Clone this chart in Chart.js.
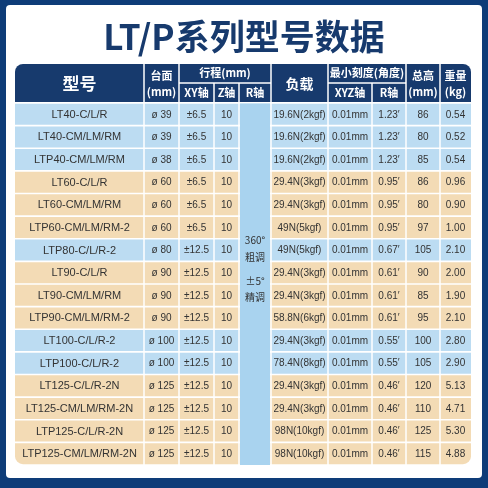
<!DOCTYPE html>
<html><head><meta charset="utf-8">
<script src="https://cdn.jsdelivr.net/npm/chart.js@4"></script>
<style>html,body{margin:0;padding:0;background:#fff}#w{width:488px;height:488px}</style>
</head><body><div id="w"><canvas id="c"></canvas></div>
<script>
const title = 'LT/P系列型号数据';
const models = ['LT40-C/L/R','LT40-CM/LM/RM','LTP40-CM/LM/RM','LT60-C/L/R','LT60-CM/LM/RM','LTP60-CM/LM/RM-2','LTP80-C/L/R-2','LT90-C/L/R','LT90-CM/LM/RM','LTP90-CM/LM/RM-2','LT100-C/L/R-2','LTP100-C/L/R-2','LT125-C/L/R-2N','LT125-CM/LM/RM-2N','LTP125-C/L/R-2N','LTP125-CM/LM/RM-2N'];
const table = ['ø 39','ø 39','ø 38','ø 60','ø 60','ø 60','ø 80','ø 90','ø 90','ø 90','ø 100','ø 100','ø 125','ø 125','ø 125','ø 125'];
const strokeXY = ['±6.5','±6.5','±6.5','±6.5','±6.5','±6.5','±12.5','±12.5','±12.5','±12.5','±12.5','±12.5','±12.5','±12.5','±12.5','±12.5'];
const strokeZ = ['10','10','10','10','10','10','10','10','10','10','10','10','10','10','10','10'];
const strokeR = ['360°','粗调','±5°','精调'];
const load = ['19.6N(2kgf)','19.6N(2kgf)','19.6N(2kgf)','29.4N(3kgf)','29.4N(3kgf)','49N(5kgf)','49N(5kgf)','29.4N(3kgf)','29.4N(3kgf)','58.8N(6kgf)','29.4N(3kgf)','78.4N(8kgf)','29.4N(3kgf)','29.4N(3kgf)','98N(10kgf)','98N(10kgf)'];
const minXYZ = ['0.01mm','0.01mm','0.01mm','0.01mm','0.01mm','0.01mm','0.01mm','0.01mm','0.01mm','0.01mm','0.01mm','0.01mm','0.01mm','0.01mm','0.01mm','0.01mm'];
const minR = ['1.23′','1.23′','1.23′','0.95′','0.95′','0.95′','0.67′','0.61′','0.61′','0.61′','0.55′','0.55′','0.46′','0.46′','0.46′','0.46′'];
const height = ['86','80','85','86','80','97','105','90','85','95','100','105','120','110','125','115'];
const weight = ['0.54','0.52','0.54','0.96','0.90','1.00','2.10','2.00','1.90','2.10','2.80','2.90','5.13','4.71','5.30','4.88'];
const rowGroup = ['b','b','b','t','t','t','b','t','t','t','b','b','t','t','t','t'];

const colEdges = [0,129,164,199,224,256,313,357,391,425,456];
const NAVY='#173a6d', BLUE='#bcdcf2', TAN='#f3dbb5', RCOL='#a9d3ef';
const cols=[models,table,strokeXY,strokeZ,null,load,minXYZ,minR,height,weight];

const tablePlugin = {
  id:'tbl',
  beforeDraw(ch){
    const c=ch.ctx;
    c.save();
    c.fillStyle='#0e3c78'; c.fillRect(0,0,488,488);
    c.fillStyle='#fff'; c.beginPath(); c.roundRect(6,5,476,473,4); c.fill();
    c.fillStyle=NAVY; c.textAlign='center'; c.textBaseline='middle';
    c.font='bold 35px "Noto Sans CJK SC"'; c.fillText(title,244,37);
    const x=ch.scales.x, a=ch.chartArea;
    const X=v=>x.getPixelForValue(v);
    c.fillStyle=NAVY; c.beginPath(); c.roundRect(a.left,64,a.right-a.left,38,[8,8,0,0]); c.fill();
    c.strokeStyle='#fff'; c.lineWidth=1.5;
    const ln=(x1,y1,x2,y2)=>{c.beginPath();c.moveTo(x1,y1);c.lineTo(x2,y2);c.stroke();};
    [1,2,5,6,8,9].forEach(i=>ln(X(colEdges[i]),64,X(colEdges[i]),102));
    [3,4,7].forEach(i=>ln(X(colEdges[i]),83,X(colEdges[i]),102));
    ln(X(colEdges[2]),83,X(colEdges[5]),83); ln(X(colEdges[6]),83,X(colEdges[8]),83);
    c.fillStyle='#fff';
    const mid=i=>(X(colEdges[i])+X(colEdges[i+1]))/2;
    c.font='bold 17px "Noto Sans CJK SC"'; c.fillText('型号',mid(0),84);
    c.font='bold 14px "Noto Sans CJK SC"'; c.fillText('负载',mid(5),84);
    c.font='bold 11px "Noto Sans CJK SC"';
    c.fillText('台面',mid(1),76); c.fillText('(mm)',mid(1),92);
    c.fillText('总高',mid(8),76); c.fillText('(mm)',mid(8),92);
    c.fillText('重量',mid(9),76); c.fillText('(kg)',mid(9),92);
    c.fillText('行程(mm)',(X(colEdges[2])+X(colEdges[5]))/2,73);
    c.fillText('最小刻度(角度)',(X(colEdges[6])+X(colEdges[8]))/2,73);
    c.fillText('XY轴',mid(2),93); c.fillText('Z轴',mid(3),93); c.fillText('R轴',mid(4),93);
    c.fillText('XYZ轴',mid(6),93); c.fillText('R轴',mid(7),93);
    c.restore();
  },
  afterDatasetsDraw(ch){
    const c=ch.ctx, x=ch.scales.x, y=ch.scales.y, a=ch.chartArea;
    const X=v=>x.getPixelForValue(v);
    c.save();
    c.strokeStyle='#fff'; c.lineWidth=1.5;
    for(let i=1;i<colEdges.length-1;i++){c.beginPath();c.moveTo(X(colEdges[i]),a.top);c.lineTo(X(colEdges[i]),a.bottom);c.stroke();}
    c.fillStyle=RCOL; c.fillRect(X(colEdges[4])+1,a.top+0.5,X(colEdges[5])-X(colEdges[4])-2,a.bottom-a.top-0.5);
    c.fillStyle='#333'; c.textAlign='center'; c.textBaseline='middle';
    const rm=(X(colEdges[4])+X(colEdges[5]))/2;
    c.font='10px "Noto Sans CJK SC"';
    const yc=y.getPixelForValue(6.5);
    [-21,-4,20,36].forEach((d,k)=>c.fillText(strokeR[k],rm,yc+d));
    models.forEach((m,r)=>{
      const py=y.getPixelForValue(r);
      cols.forEach((arr,ci)=>{
        if(!arr)return;
        c.font=(ci===0?'11px':'10px')+' "Liberation Sans", Arial';
        c.fillText(arr[r],(X(colEdges[ci])+X(colEdges[ci+1]))/2,py+0.5);
      });
    });
    c.restore();
  }
};

new Chart(document.getElementById('c'),{
  type:'bar',
  data:{labels:models,datasets:[{
    data:models.map(()=>[colEdges[0],colEdges[colEdges.length-1]]),
    backgroundColor:rowGroup.map(g=>g==='b'?BLUE:TAN),
    borderSkipped:false,
    borderRadius:(ctx)=>ctx.dataIndex===models.length-1?{topLeft:0,topRight:0,bottomLeft:8,bottomRight:8}:0,
    barPercentage:1,categoryPercentage:0.93
  }]},
  options:{indexAxis:'y',responsive:true,maintainAspectRatio:false,animation:false,
    layout:{padding:{left:15,right:17,top:103,bottom:23}},
    plugins:{legend:{display:false},tooltip:{enabled:false}},
    scales:{x:{display:false,min:colEdges[0],max:colEdges[colEdges.length-1]},y:{display:false,offset:true}}},
  plugins:[tablePlugin]
});
</script></body></html>
